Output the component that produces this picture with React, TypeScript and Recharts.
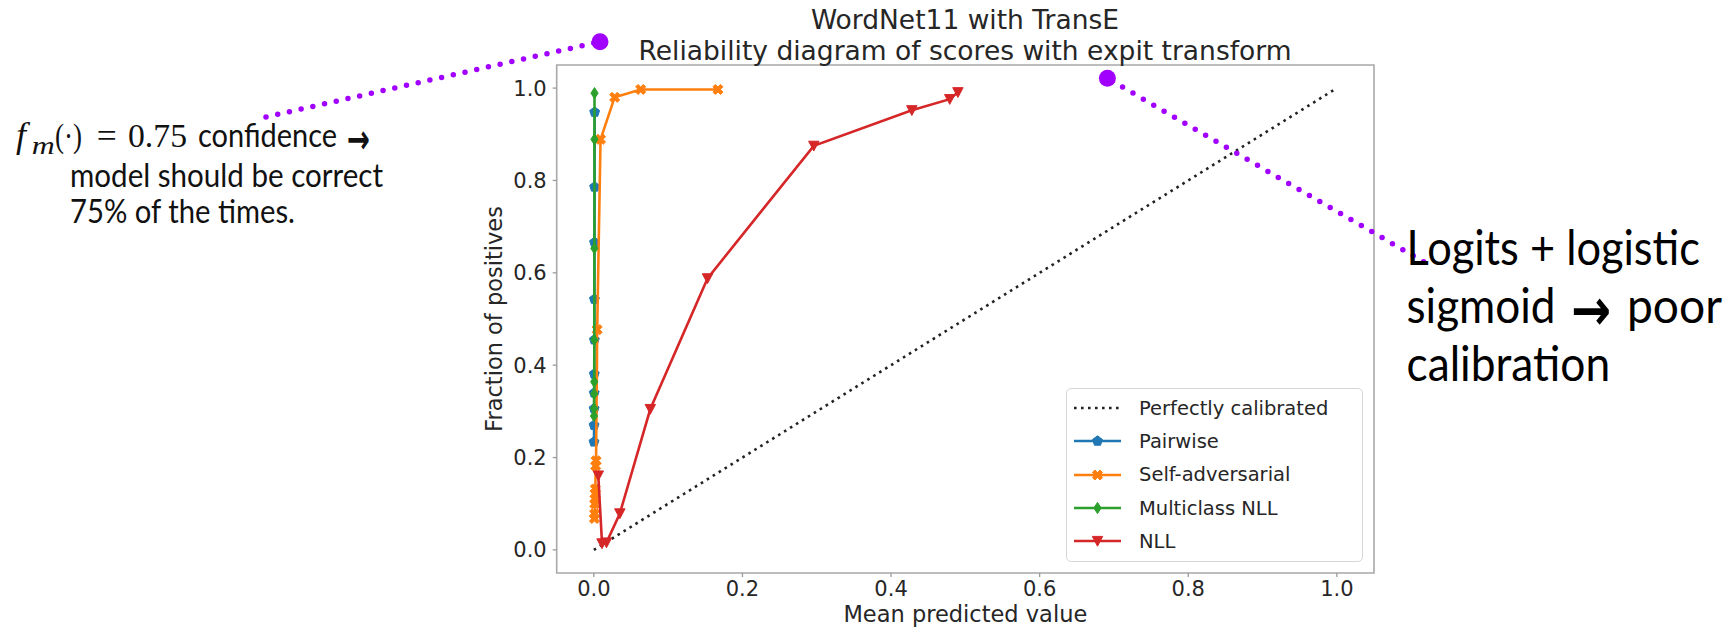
import React from 'react';
import { ScatterChart, Scatter, XAxis, YAxis, ReferenceArea, Legend, Label } from 'recharts';

const xTicks = [0, 0.2, 0.4, 0.6, 0.8, 1.0];
const yTicks = [0, 0.2, 0.4, 0.6, 0.8, 1.0];

const perfectX = [0, 1];
const perfectY = [0, 1];

const pairwiseX = [0.0002, 0.0003, 0.0004, 0.0005, 0.0006, 0.0007, 0.0008, 0.0009, 0.001, 0.0011];
const pairwiseY = [0.234, 0.27, 0.306, 0.34, 0.381, 0.455, 0.543, 0.666, 0.786, 0.948];

const selfAdvX = [0.0008, 0.001, 0.0013, 0.0016, 0.0018, 0.002, 0.0025, 0.003, 0.0045, 0.009, 0.028, 0.063, 0.167];
const selfAdvY = [0.068, 0.078, 0.1, 0.11, 0.122, 0.132, 0.182, 0.193, 0.477, 0.889, 0.98, 0.997, 0.997];

const multiX = [0.0002, 0.0003, 0.0004, 0.0005, 0.0006, 0.0007, 0.0008, 0.0009];
const multiY = [0.29, 0.306, 0.338, 0.364, 0.455, 0.653, 0.889, 0.989];

const nllX = [0.006, 0.011, 0.017, 0.035, 0.076, 0.153, 0.296, 0.428, 0.479, 0.49];
const nllY = [0.161, 0.014, 0.016, 0.079, 0.305, 0.588, 0.875, 0.952, 0.976, 0.991];

const toPoints = (xs: number[], ys: number[]) => xs.map((x, i) => ({ x, y: ys[i] }));

type MarkerKind = 'none' | 'pentagon' | 'x' | 'diamond' | 'tridown';

const SERIES: { name: string; color: string; marker: MarkerKind; data: { x: number; y: number }[]; dotted?: boolean }[] = [
  { name: 'Perfectly calibrated', color: '#222222', marker: 'none', data: toPoints(perfectX, perfectY), dotted: true },
  { name: 'Pairwise', color: '#1f77b4', marker: 'pentagon', data: toPoints(pairwiseX, pairwiseY) },
  { name: 'Self-adversarial', color: '#ff7f0e', marker: 'x', data: toPoints(selfAdvX, selfAdvY) },
  { name: 'Multiclass NLL', color: '#2ca02c', marker: 'diamond', data: toPoints(multiX, multiY) },
  { name: 'NLL', color: '#d62728', marker: 'tridown', data: toPoints(nllX, nllY) },
];

const FONT = '"DejaVu Sans", sans-serif';
const SERIF = '"Liberation Serif", serif';
const PURPLE = '#a100ff';

function Marker({ kind, cx, cy, color }: { kind: MarkerKind; cx: number; cy: number; color: string }) {
  if (kind === 'none' || cx == null || cy == null) return <g />;
  let pts: [number, number][] = [];
  if (kind === 'pentagon') {
    const r = 5.2;
    for (let k = 0; k < 5; k++) {
      const a = (-90 + k * 72) * Math.PI / 180;
      pts.push([cx + r * Math.cos(a), cy + r * Math.sin(a)]);
    }
  } else if (kind === 'diamond') {
    pts = [[cx, cy - 5.6], [cx + 3.6, cy], [cx, cy + 5.6], [cx - 3.6, cy]];
  } else if (kind === 'tridown') {
    pts = [[cx - 5.2, cy - 4.6], [cx + 5.2, cy - 4.6], [cx, cy + 5.2]];
  } else if (kind === 'x') {
    const r = 5.4;
    const t = 1.7;
    const plus: [number, number][] = [
      [-t, -r], [t, -r], [t, -t], [r, -t], [r, t], [t, t],
      [t, r], [-t, r], [-t, t], [-r, t], [-r, -t], [-t, -t],
    ];
    const c = Math.SQRT1_2;
    pts = plus.map(([px, py]) => [cx + (px - py) * c, cy + (px + py) * c]);
  }
  return (
    <polygon
      points={pts.map((p) => `${p[0]},${p[1]}`).join(' ')}
      fill={color}
      stroke={color}
      strokeWidth={1}
      strokeLinejoin="round"
    />
  );
}

const renderLegend = () => (
  <div
    style={{
      boxSizing: 'border-box',
      width: 297,
      height: 174,
      border: '1px solid #d6d6d6',
      borderRadius: 5,
      background: 'rgba(255,255,255,0.85)',
      paddingTop: 3,
      fontFamily: FONT,
      fontSize: 19.5,
      color: '#262626',
    }}
  >
    {SERIES.map((s) => (
      <div key={s.name} style={{ display: 'flex', alignItems: 'center', height: 33.3 }}>
        <svg width={66} height={20} style={{ marginLeft: 6, flex: 'none' }}>
          <line
            x1={1}
            x2={48}
            y1={10}
            y2={10}
            stroke={s.color}
            strokeWidth={2.6}
            strokeDasharray={s.dotted ? '2.6 4.4' : undefined}
          />
          <Marker kind={s.marker} cx={24.5} cy={10} color={s.color} />
        </svg>
        <span style={{ whiteSpace: 'nowrap' }}>{s.name}</span>
      </div>
    ))}
  </div>
);

export default function App() {
  return (
    <div style={{ position: 'absolute', left: 0, top: 0, width: 1726, height: 627, background: '#fff', overflow: 'hidden' }}>
      <ScatterChart width={1726} height={627} margin={{ top: 65, right: 352, bottom: 24, left: 476.7 }}>
        <XAxis
          type="number"
          dataKey="x"
          domain={[-0.05, 1.05]}
          ticks={xTicks}
          tickFormatter={(v: number) => v.toFixed(1)}
          axisLine={false}
          tickLine={{ stroke: '#9a9a9a', strokeWidth: 1.3 }}
          tickSize={4}
          tickMargin={4}
          height={30}
          allowDataOverflow
          tick={{ fontFamily: FONT, fontSize: 21, fill: '#262626' }}
        >
          <Label value="Mean predicted value" position="bottom" offset={3} style={{ fontFamily: FONT, fontSize: 22.5, fill: '#262626' }} />
        </XAxis>
        <YAxis
          type="number"
          dataKey="y"
          domain={[-0.05, 1.05]}
          ticks={yTicks}
          tickFormatter={(v: number) => v.toFixed(1)}
          axisLine={false}
          tickLine={{ stroke: '#9a9a9a', strokeWidth: 1.3 }}
          tickSize={4}
          tickMargin={6}
          width={80}
          allowDataOverflow
          tick={{ fontFamily: FONT, fontSize: 21, fill: '#262626' }}
        >
          <Label
            value="Fraction of positives"
            angle={-90}
            position="insideLeft"
            offset={17}
            style={{ fontFamily: FONT, fontSize: 22.5, fill: '#262626', textAnchor: 'middle' }}
          />
        </YAxis>
        <ReferenceArea
          x1={-0.05}
          x2={1.05}
          y1={-0.05}
          y2={1.05}
          fill="none"
          fillOpacity={0}
          stroke="#a8a8a8"
          strokeWidth={1.6}
          ifOverflow="visible"
        />
        {SERIES.map((s) => (
          <Scatter
            key={s.name}
            name={s.name}
            data={s.data}
            fill={s.color}
            line={{ stroke: s.color, strokeWidth: 2.6, strokeDasharray: s.dotted ? '2.6 4.4' : undefined }}
            lineType="joint"
            shape={(p: any) => <Marker kind={s.marker} cx={p.cx} cy={p.cy} color={s.color} />}
            isAnimationActive={false}
          />
        ))}
        <Legend
          layout="vertical"
          align="center"
          verticalAlign="middle"
          content={renderLegend}
          wrapperStyle={{ left: 1066, top: 387.5, width: 297, height: 174 }}
        />
      </ScatterChart>

      <svg width={1726} height={627} style={{ position: 'absolute', left: 0, top: 0, pointerEvents: 'none' }}>
        {/* title */}
        <text x={965} y={29.3} textAnchor="middle" fontFamily={FONT} fontSize={26.5} fill="#262626">
          WordNet11 with TransE
        </text>
        <text x={965} y={60} textAnchor="middle" fontFamily={FONT} fontSize={26.5} fill="#262626">
          Reliability diagram of scores with expit transform
        </text>

        {/* left annotation */}
        <line x1={266} y1={117} x2={600} y2={41.7} stroke={PURPLE} strokeWidth={5.5} strokeLinecap="round" strokeDasharray="0 12" />
        <circle cx={600} cy={41.7} r={8.5} fill={PURPLE} />
        <g fill="#111">
          <text x={16} y={147.3} fontFamily={SERIF} fontStyle="italic" fontSize={36}>f</text>
          <text x={31.7} y={153.5} fontFamily={SERIF} fontStyle="italic" fontSize={25} textLength={23} lengthAdjust="spacingAndGlyphs">m</text>
          <text x={55} y={147.3} fontFamily={SERIF} fontSize={34} textLength={27} lengthAdjust="spacingAndGlyphs">(·)</text>
          <text x={96.7} y={147.3} fontFamily={SERIF} fontSize={34} textLength={20} lengthAdjust="spacingAndGlyphs">=</text>
          <text x={128} y={147.3} fontFamily={SERIF} fontSize={33} textLength={59} lengthAdjust="spacingAndGlyphs">0.75</text>
          <text x={198} y={147.3} fontFamily="Lato, sans-serif" fontSize={32} textLength={139} lengthAdjust="spacingAndGlyphs">confidence</text>
          <text x={347} y={152.5} fontFamily={FONT} fontWeight="bold" fontSize={40} textLength={23} lengthAdjust="spacingAndGlyphs">→</text>
          <text x={70} y={187.3} fontFamily="Lato, sans-serif" fontSize={32} textLength={313} lengthAdjust="spacingAndGlyphs">model should be correct</text>
          <text x={70} y={222.7} fontFamily="Lato, sans-serif" fontSize={32} textLength={225} lengthAdjust="spacingAndGlyphs">75% of the times.</text>
        </g>

        {/* right annotation */}
        <line x1={1423.6} y1={261.7} x2={1107.4} y2={78.3} stroke={PURPLE} strokeWidth={5.5} strokeLinecap="round" strokeDasharray="0 12" />
        <circle cx={1107.4} cy={78.3} r={8.5} fill={PURPLE} />
        <g fill="#000" fontFamily="Lato, sans-serif" fontSize={48}>
          <text x={1406.5} y={265} textLength={293.5} lengthAdjust="spacingAndGlyphs">Logits + logistic</text>
          <text x={1406.5} y={323} textLength={149} lengthAdjust="spacingAndGlyphs">sigmoid</text>
          <text x={1571} y={330} fontFamily={FONT} fontWeight="bold" fontSize={58} textLength={40} lengthAdjust="spacingAndGlyphs">→</text>
          <text x={1627} y={323} textLength={95} lengthAdjust="spacingAndGlyphs">poor</text>
          <text x={1406.5} y={380.5} textLength={203.7} lengthAdjust="spacingAndGlyphs">calibration</text>
        </g>
      </svg>
    </div>
  );
}
